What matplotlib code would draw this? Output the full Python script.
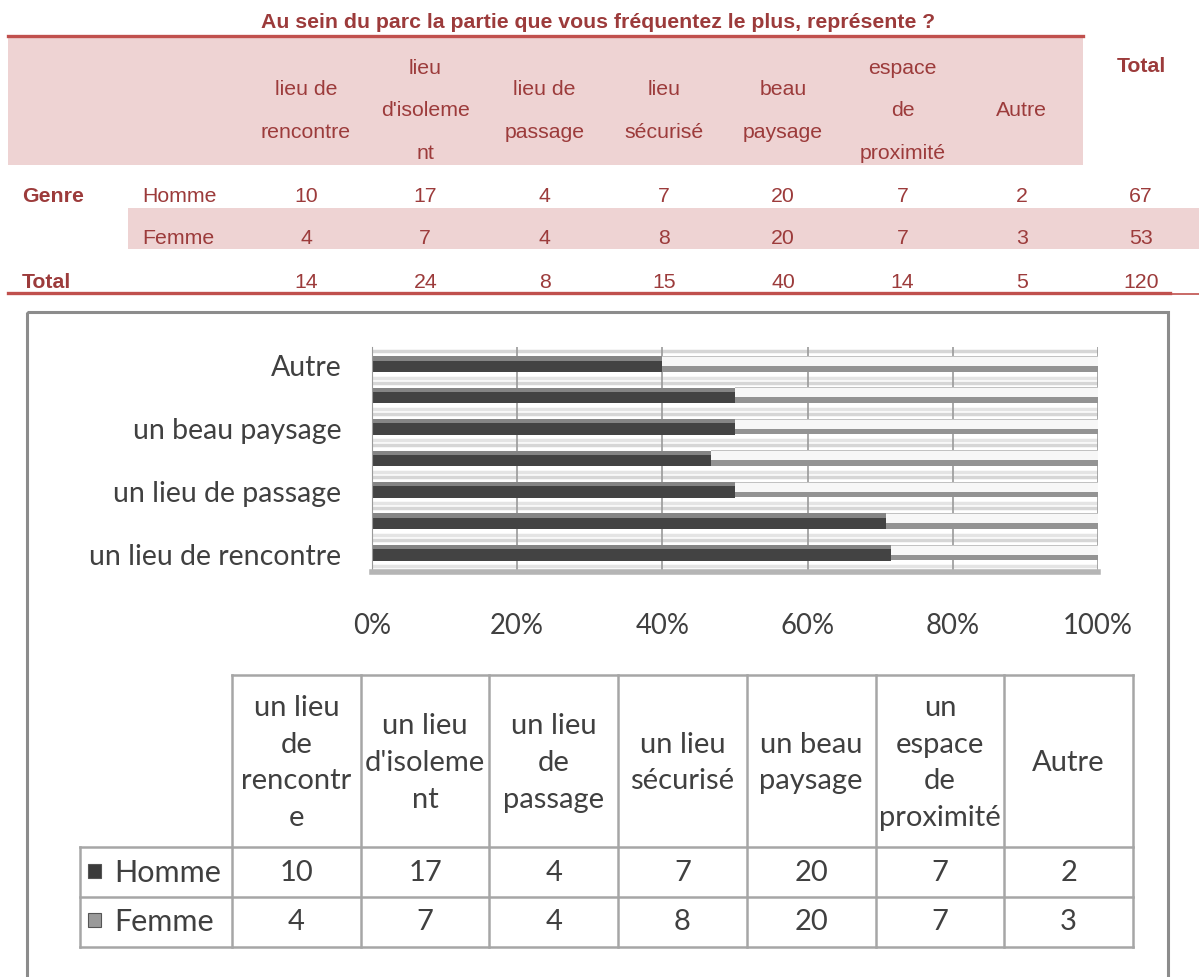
import numpy as np
import matplotlib.pyplot as plt
from matplotlib.patches import Rectangle

# survey counts per place type
cols_top = ["lieu de\nrencontre", "lieu\nd'isoleme\nnt", "lieu de\npassage", "lieu\nsécurisé",
            "beau\npaysage", "espace\nde\nproximité", "Autre"]
cols_tab = ["un lieu\nde\nrencontr\ne", "un lieu\nd'isoleme\nnt", "un lieu\nde\npassage", "un lieu\nsécurisé",
            "un beau\npaysage", "un\nespace\nde\nproximité", "Autre"]
bar_labels = ["un lieu de rencontre", "un lieu d'isolement", "un lieu de passage", "un lieu sécurisé",
              "un beau paysage", "un espace de proximité", "Autre"]
homme = np.array([10, 17, 4, 7, 20, 7, 2])
femme = np.array([4, 7, 4, 8, 20, 7, 3])
genres = ["Homme", "Femme"]

total = homme + femme
pct_h = homme / total * 100
pct_f = femme / total * 100

red = '#9c3b3b'
red_line = '#c0504d'
pink = '#eed3d3'
txt_gray = '#404040'
fs_top = 15.3

W, H = 1199, 978
fig = plt.figure(figsize=(W / 100, H / 100), dpi=100, facecolor='white')

# background axes in pixel coordinates for the tables
bg = fig.add_axes([0, 0, 1, 1])
bg.set_xlim(0, W)
bg.set_ylim(H, 0)
bg.axis('off')

# ---------------- top table ----------------
col_x = 306 + 119.3 * np.arange(8)
bg.text(598, 22, "Au sein du parc la partie que vous fréquentez le plus, représente ?",
        ha='center', va='center', fontsize=15.3, fontweight='bold', color=red, family='Liberation Sans')
bg.add_patch(Rectangle((8, 38), 1075, 128, facecolor=pink, edgecolor='none'))
bg.plot([8, 1083], [37, 37], color=red_line, lw=2.4)
bg.add_patch(Rectangle((128, 209), 1071, 41, facecolor=pink, edgecolor='none'))
bg.plot([8, 1170], [294, 294], color=red_line, lw=2.4)
bg.plot([1170, 1199], [295, 295], color=red_line, lw=1.2)

for x, lab in zip(col_x, cols_top):
    bg.text(x, 111, lab, ha='center', va='center', fontsize=fs_top, color=red,
            family='Liberation Sans', linespacing=2.55)
bg.text(col_x[7], 67, "Total", ha='center', va='center', fontsize=fs_top, fontweight='bold',
        color=red, family='Liberation Sans')

rows_y = [196, 238]
bg.text(22, 196, "Genre", ha='left', va='center', fontsize=fs_top, fontweight='bold', color=red,
        family='Liberation Sans')
for y, g, vals in zip(rows_y, genres, [homme, femme]):
    bg.text(142, y, g, ha='left', va='center', fontsize=fs_top, color=red, family='Liberation Sans')
    for x, v in zip(col_x, list(vals) + [vals.sum()]):
        bg.text(x, y, str(v), ha='center', va='center', fontsize=fs_top, color=red, family='Liberation Sans')
bg.text(22, 282, "Total", ha='left', va='center', fontsize=fs_top, fontweight='bold', color=red,
        family='Liberation Sans')
for x, v in zip(col_x, list(total) + [total.sum()]):
    bg.text(x, 282, str(v), ha='center', va='center', fontsize=fs_top, color=red, family='Liberation Sans')

# ---------------- chart frame ----------------
bg.add_patch(Rectangle((27, 313), 1141, 700, facecolor='none', edgecolor='#8c8c8c', lw=2.2))

# ---------------- 100% stacked bars ----------------
ax = fig.add_axes([372 / W, 1 - 573 / H, (1098 - 372) / W, (573 - 348) / H])
y = np.arange(len(homme))
for i in y:
    ax.axhline(i + 0.42, color='#d6d6d6', lw=2.5, zorder=0)
    ax.axhline(i - 0.42, color='#e4e4e4', lw=2.5, zorder=0)
for gx in [20, 40, 60, 80, 100]:
    ax.axvline(gx, color='#9a9a9a', lw=1.2, zorder=1)

# each segment drawn as a shaded lower body plus a lighter top strip
ax.barh(y - 0.06, pct_h, height=0.36, color='#434343', zorder=2)
ax.barh(y + 0.19, pct_h, height=0.14, color='#858585', zorder=2)
ax.barh(y - 0.14, pct_f, left=pct_h, height=0.18, color='#939393', zorder=2)
ax.barh(y + 0.1, pct_f, left=pct_h, height=0.3, color='#f7f7f7', zorder=2)
ax.barh(y + 0.25, pct_f, left=pct_h, height=0.03, color='#c2c2c2', zorder=2)

ax.set_xlim(0, 100)
ax.set_ylim(-0.6, 6.55)
ax.set_xticks([0, 20, 40, 60, 80, 100])
ax.set_xticklabels(["0%", "20%", "40%", "60%", "80%", "100%"])
ax.set_yticks(y)
ax.set_yticklabels([lab if i % 2 == 0 else "" for i, lab in enumerate(bar_labels)])
ax.tick_params(length=0, colors=txt_gray)
ax.tick_params(axis='x', pad=29, labelsize=19.8)
ax.tick_params(axis='y', pad=22, labelsize=20.5)
for lab in ax.get_xticklabels() + ax.get_yticklabels():
    lab.set_family('Lato')
for s in ['top', 'right']:
    ax.spines[s].set_visible(False)
ax.spines['left'].set_color('#9a9a9a')
ax.spines['bottom'].set_color('#b5b5b5')
ax.spines['bottom'].set_linewidth(4)

# ---------------- data table under the chart ----------------
edges = np.linspace(232, 1133, 8)
centers = (edges[:-1] + edges[1:]) / 2
gcol = '#a6a6a6'
top_y, row1, row2, bot = 676, 848, 898, 948
bg.plot([232, 1133], [top_y, top_y], color=gcol, lw=1.8)
for yy in [row1, row2, bot]:
    bg.plot([80, 1133], [yy, yy], color=gcol, lw=1.8)
for xx in edges:
    bg.plot([xx, xx], [top_y, bot], color=gcol, lw=1.8)
bg.plot([80, 80], [row1, bot], color=gcol, lw=1.8)

for x, lab in zip(centers, cols_tab):
    bg.text(x, 763, lab, ha='center', va='center', fontsize=21, color=txt_gray, family='Lato',
            linespacing=1.52)
sq_cols = ['#3a3a3a', '#9a9a9a']
for yy, g, vals, sc in zip([873, 922], genres, [homme, femme], sq_cols):
    bg.add_patch(Rectangle((88, yy - 8), 13, 14, facecolor=sc, edgecolor='#555555', lw=0.8))
    bg.text(114, yy, g, ha='left', va='center', fontsize=22, color=txt_gray, family='Lato')
    for x, v in zip(centers, vals):
        bg.text(x, yy, str(v), ha='center', va='center', fontsize=21, color=txt_gray, family='Lato')

fig.savefig('out.png', dpi=100, facecolor='white')
